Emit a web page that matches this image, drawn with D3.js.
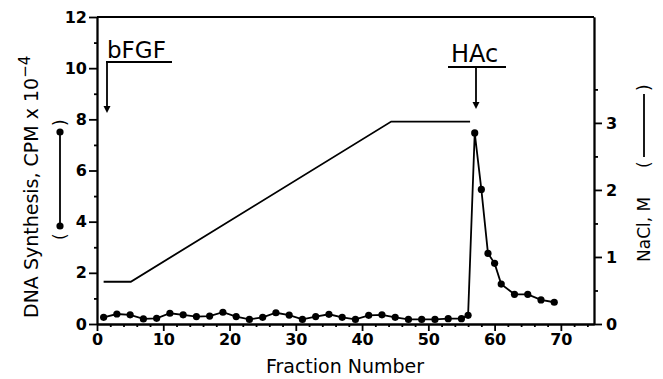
<!DOCTYPE html>
<html><head><meta charset="utf-8">
<script src="https://cdn.jsdelivr.net/npm/d3@7"></script>
<style>body{margin:0;background:#fff}svg{display:block}text{font-family:"DejaVu Sans","Liberation Sans",sans-serif;fill:#000}</style>
</head><body>
<script>
// DNA synthesis (CPM x 10^-4) per fraction
const fractions = [1,3,5,7,9,11,13,15,17,19,21,23,25,27,29,31,33,35,37,39,41,43,45,47,49,51,53,55,56,57,58,59,60,61,63,65,67,69];
const dnaValues = [0.26,0.39,0.36,0.2,0.22,0.42,0.36,0.29,0.31,0.46,0.29,0.18,0.26,0.44,0.35,0.18,0.29,0.38,0.26,0.18,0.34,0.36,0.26,0.18,0.18,0.18,0.21,0.21,0.34,7.47,5.26,2.76,2.37,1.56,1.16,1.16,0.94,0.85];
// NaCl gradient (M)
const naclFractions = [1,5.1,44.4,56.3];
const naclValues = [0.63,0.63,3.02,3.02];
const xTicks = [0,10,20,30,40,50,60,70];
const yTicks = [0,2,4,6,8,10,12];
const yRTicks = [0,1,2,3];

const W=663,H=379;
const svg=d3.select("body").append("svg").attr("width",W).attr("height",H);
const x=d3.scaleLinear().domain([0,75]).range([97,594]);
const y=d3.scaleLinear().domain([0,12]).range([324,17]);
const yR=d3.scaleLinear().domain([0,4.58]).range([324,17]);
const sw=1.8;

// axes
const gx=svg.append("g").attr("transform","translate(0,324)")
  .call(d3.axisBottom(x).tickValues(xTicks).tickSize(7).tickSizeOuter(0).tickPadding(3));
const gxm=svg.append("g").attr("transform","translate(0,324)")
  .call(d3.axisBottom(x).tickValues(d3.range(0,76,2).filter(v=>v%10)).tickSize(3).tickFormat("").tickSizeOuter(0));
const gy=svg.append("g").attr("transform","translate(97,0)")
  .call(d3.axisLeft(y).tickValues(yTicks).tickSize(8).tickSizeOuter(0).tickPadding(2));
const gym=svg.append("g").attr("transform","translate(97,0)")
  .call(d3.axisLeft(y).tickValues([1,3,5,7,9,11]).tickSize(3).tickFormat("").tickSizeOuter(0));
const gr=svg.append("g").attr("transform","translate(594,0)")
  .call(d3.axisRight(yR).tickValues(yRTicks).tickFormat(d3.format("d")).tickSize(8).tickSizeOuter(0).tickPadding(4));
const grm=svg.append("g").attr("transform","translate(594,0)")
  .call(d3.axisRight(yR).tickValues([0.5,1.5,2.5,3.5]).tickSize(4).tickFormat("").tickSizeOuter(0));
[gx,gxm,gy,gym,gr,grm].forEach(g=>{
  g.selectAll("path,line").attr("stroke","#000").attr("stroke-width",sw);
  g.selectAll("text").style("font-size","16px").style("font-weight","bold").attr("fill","#000");
});
// top border
svg.append("line").attr("x1",x(0)).attr("x2",x(75)).attr("y1",y(12)).attr("y2",y(12)).attr("stroke","#000").attr("stroke-width",sw);

// NaCl line
svg.append("path").datum(naclFractions.map((f,i)=>[f,naclValues[i]]))
  .attr("d",d3.line().x(d=>x(d[0])).y(d=>yR(d[1])))
  .attr("fill","none").attr("stroke","#000").attr("stroke-width",sw);

// DNA line + dots
const dna=fractions.map((f,i)=>[f,dnaValues[i]]);
svg.append("path").datum(dna).attr("d",d3.line().x(d=>x(d[0])).y(d=>y(d[1])))
  .attr("fill","none").attr("stroke","#000").attr("stroke-width",sw);
svg.selectAll("circle.p").data(dna).enter().append("circle")
  .attr("cx",d=>x(d[0])).attr("cy",d=>y(d[1])).attr("r",3.6).attr("fill","#000");

// annotations
function arrow(x0,yTop,yTip){
  svg.append("line").attr("x1",x0).attr("x2",x0).attr("y1",yTop).attr("y2",yTip-5).attr("stroke","#000").attr("stroke-width",sw);
  svg.append("path").attr("d",`M${x0-3.5},${yTip-7}L${x0+3.5},${yTip-7}L${x0},${yTip}Z`).attr("fill","#000");
}
svg.append("text").attr("x",107).attr("y",58).style("font-size","23px").text("bFGF");
svg.append("line").attr("x1",106).attr("x2",172).attr("y1",62).attr("y2",62).attr("stroke","#000").attr("stroke-width",sw);
arrow(107,62,113);
svg.append("text").attr("x",451).attr("y",62).style("font-size","24px").text("HAc");
svg.append("line").attr("x1",448).attr("x2",506).attr("y1",67).attr("y2",67).attr("stroke","#000").attr("stroke-width",sw);
arrow(476,67,109);

// x label
svg.append("text").attr("x",345).attr("y",373).attr("text-anchor","middle").style("font-size","19px").text("Fraction Number");

// left label
const gl=svg.append("g").attr("transform","translate(38,318) rotate(-90)");
const t=gl.append("text").attr("x",0).attr("y",0).style("font-size","19px");
t.append("tspan").text("DNA Synthesis, CPM x 10");
t.append("tspan").attr("dy",-8).style("font-size","15px").text("\u22124");
const gl2=svg.append("g").attr("transform","translate(60,0)");
gl2.append("text").attr("transform","translate(6,240) rotate(-90)").style("font-size","17px").text("(");
gl2.append("text").attr("transform","translate(6,126) rotate(-90)").style("font-size","17px").text(")");
gl2.append("line").attr("x1",0).attr("x2",0).attr("y1",132).attr("y2",226).attr("stroke","#000").attr("stroke-width",sw);
gl2.append("circle").attr("cx",0).attr("cy",132).attr("r",3.6);
gl2.append("circle").attr("cx",0).attr("cy",226).attr("r",3.6);

// right label
const gr2=svg.append("g").attr("transform","translate(650,262) rotate(-90)");
gr2.append("text").attr("x",0).attr("y",0).style("font-size","17px").text("NaCl, M");
gr2.append("text").attr("x",94).attr("y",0).style("font-size","17px").text("(");
gr2.append("line").attr("x1",105).attr("x2",168).attr("y1",-6).attr("y2",-6).attr("stroke","#000").attr("stroke-width",sw);
gr2.append("text").attr("x",171).attr("y",0).style("font-size","17px").text(")");
</script>
</body></html>
